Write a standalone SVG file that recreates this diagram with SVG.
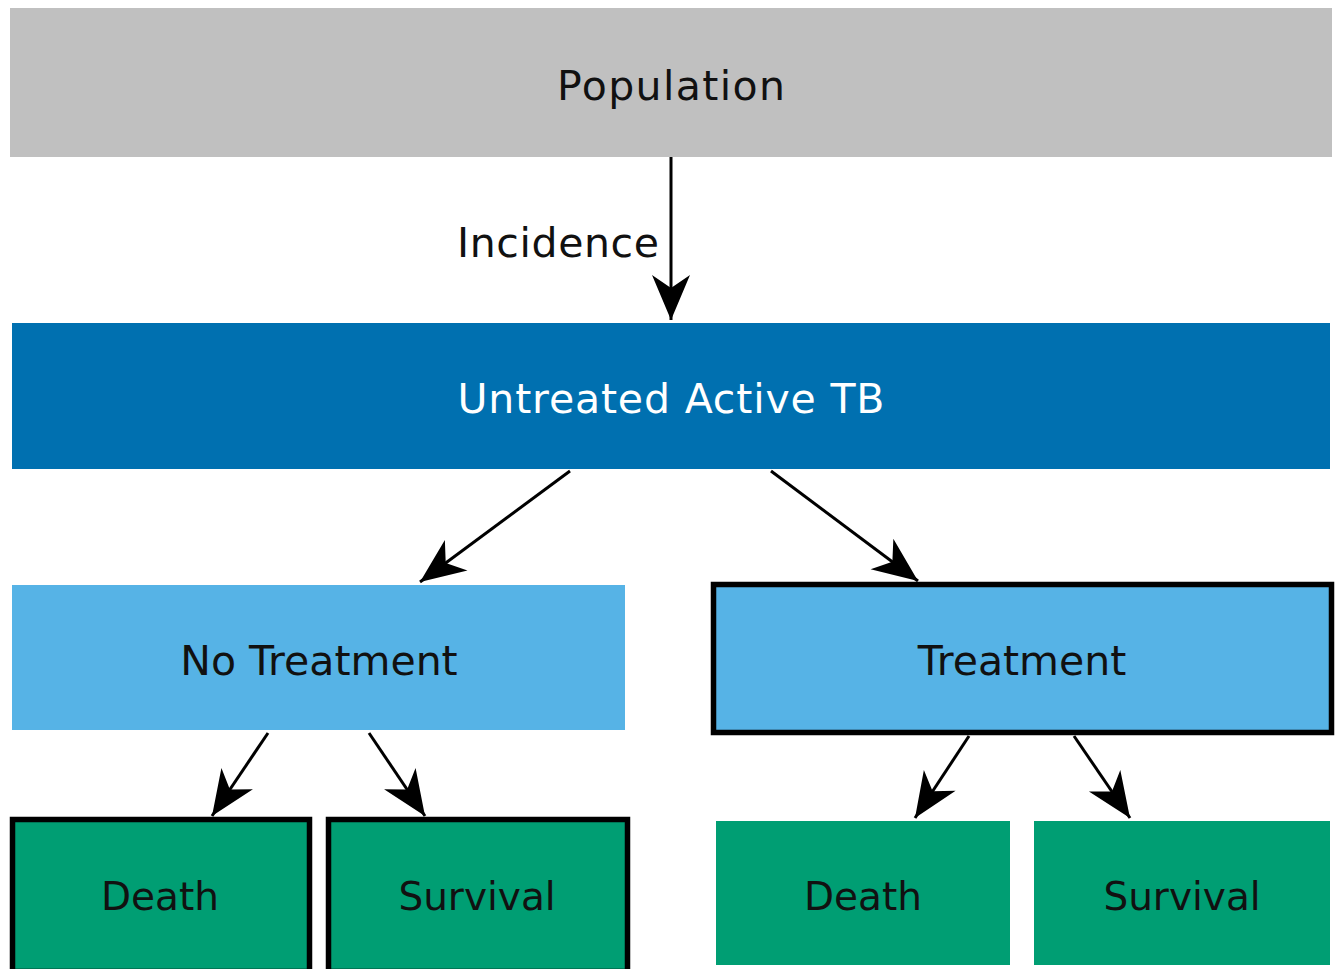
<svg xmlns="http://www.w3.org/2000/svg" width="1340" height="969" viewBox="0 0 1340 969">
<style>
text{font-family:"DejaVu Sans","Liberation Sans",sans-serif;font-size:41px;text-anchor:middle;fill:#111}
.w{fill:#fff}
.s{font-size:39px}
.edge{stroke:#000;stroke-width:3;fill:none;marker-end:url(#ah)}
.lb{fill:#56b3e6}
.gr{fill:#009e73}
.bd{stroke:#000;stroke-width:5.5}
</style>
<defs>
<marker id="ah" markerUnits="userSpaceOnUse" viewBox="-48 -22 50 44" refX="0" refY="0" markerWidth="50" markerHeight="44" orient="auto">
<path d="M0,0 L-45,-19 L-32,0 L-45,19 Z" fill="#000"/>
</marker>
</defs>
<rect width="1340" height="969" fill="#fff"/>
<g id="population"><rect x="10" y="8" width="1322" height="149" fill="#c0c0c0"/><text x="671" y="100" textLength="228">Population</text></g>
<g id="untreated"><rect x="12" y="323" width="1318" height="146" fill="#0070b0"/><text class="w" x="671" y="413" textLength="427">Untreated Active TB</text></g>
<g id="no-treatment"><rect class="lb" x="12" y="585" width="613" height="145"/><text x="319" y="675">No Treatment</text></g>
<g id="treatment"><rect class="lb bd" x="713.5" y="584.5" width="618" height="148"/><text x="1022" y="675">Treatment</text></g>
<g id="death-nt"><rect class="gr bd" x="12.5" y="819.5" width="297" height="152"/><text class="s" x="160" y="910">Death</text></g>
<g id="survival-nt"><rect class="gr bd" x="328.5" y="819.5" width="299" height="152"/><text class="s" x="477" y="910">Survival</text></g>
<g id="death-t"><rect class="gr" x="716" y="821" width="294" height="144"/><text class="s" x="863" y="910">Death</text></g>
<g id="survival-t"><rect class="gr" x="1034" y="821" width="296" height="144"/><text class="s" x="1182" y="910">Survival</text></g>
<g id="connectors">
<line class="edge" x1="671" y1="157" x2="671" y2="320"/>
<line class="edge" x1="570" y1="471" x2="420" y2="582"/>
<line class="edge" x1="771" y1="471" x2="918" y2="581"/>
<line class="edge" x1="268" y1="733" x2="212" y2="816"/>
<line class="edge" x1="369" y1="733" x2="425" y2="816"/>
<line class="edge" x1="969" y1="736" x2="915" y2="818"/>
<line class="edge" x1="1074" y1="736" x2="1130" y2="818"/>
<text x="558" y="257" textLength="202">Incidence</text>
</g>
</svg>
